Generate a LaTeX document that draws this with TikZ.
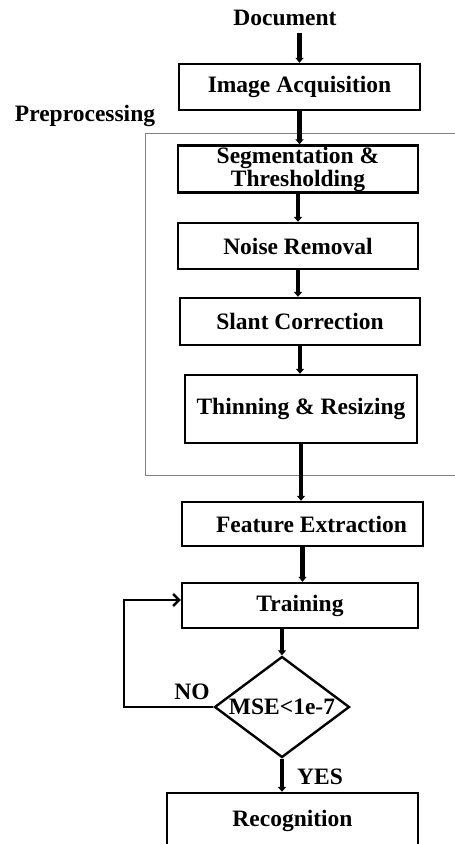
\documentclass[tikz,border=0pt]{standalone}
\usepackage{fontspec}
\setmainfont{Liberation Serif}
\usetikzlibrary{arrows.meta}
\usetikzlibrary{shapes.geometric}

\begin{document}
\begin{tikzpicture}[x=1pt,y=-1pt,
  lbl/.style={font=\bfseries\fontsize{23.5}{23}\selectfont,inner sep=0pt},
  box/.style={lbl,draw,line width=2.4pt,minimum width=240pt,minimum height=46pt,align=center},
  flow/.style={line width=4.5pt,-{Triangle[width=8pt,length=5pt]}}]
\useasboundingbox (0,0) rectangle (455,844);

\node [lbl] (doc) at (285,18) {Document};
\node [box,minimum width=241pt] (acq) at (299.5,87) {Image Acquisition};
\node [lbl] (pre) at (85,116) {Preprocessing};
\draw [gray,line width=1pt] (455,133) -| (145,475) -- (455,475);
\node [box,minimum height=47pt] (seg) at (298,169) {Segmentation \&\\Thresholding};
\node [box] (noise) at (298,246) {Noise Removal};
\node [box,minimum height=47pt] (slant) at (300,321.5) {Slant Correction};
\node [box,minimum width=232pt,minimum height=68pt] (thin) at (301,409) {Thinning \& Resizing};
\node [box,minimum width=241pt,minimum height=44pt] (feat) at (302.5,524) {\hspace{18pt}Feature Extraction};
\node [box,minimum width=236pt,minimum height=45pt] (train) at (300,605.5) {Training};
\node [lbl,draw,diamond,line width=2.4pt,minimum width=135pt,minimum height=101pt,aspect=1.34] (mse) at (282,707) {MSE<1e-7};
\node [box,minimum width=251pt,minimum height=56pt] (recog) at (292.5,821) {Recognition};
\coordinate (back) at (124,600);

% main flow
\draw [flow,shorten <=7pt] (acq.north |- doc.south) -- (acq.north);
\draw [flow] (acq.south) -- (acq.south |- seg.north);
\draw [flow] (seg.south) -- (seg.south |- noise.north);
\draw [flow] (noise.south) -- (noise.south |- slant.north);
\draw [flow] (slant.south) -- (slant.south |- thin.north);
\draw [flow] (thin.south) -- (thin.south |- feat.north);
\draw [flow] (feat.south) -- (feat.south |- train.north);
\draw [flow] (mse.north |- train.south) -- (mse.north);
\draw [flow] (mse.south) -- (mse.south |- recog.north);

% loop back
\draw [line width=2.4pt,-{Straight Barb[length=6pt,width=12pt]}] (mse.west) -| (back) -- (back -| train.west);
\node [lbl] (no) at (192,692) {NO};
\node [lbl] (yes) at (320,777) {YES};
\end{tikzpicture}
\end{document}
